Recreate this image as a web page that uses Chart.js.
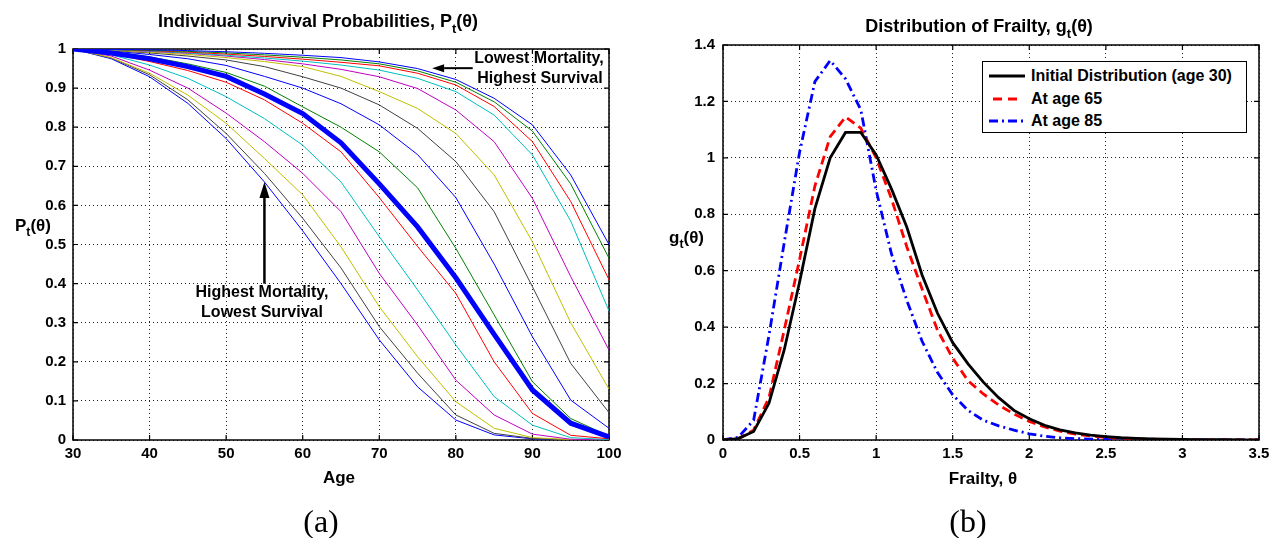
<!DOCTYPE html>
<html>
<head>
<meta charset="utf-8">
<title>Survival and frailty</title>
<script src="https://cdn.jsdelivr.net/npm/chart.js@4.4.0/dist/chart.umd.min.js"></script>
<style>
  body { margin: 0; background: #fff; width: 1283px; height: 538px; position: relative; overflow: hidden;
         font-family: "Liberation Sans", Arial, Helvetica, sans-serif; color: #000; }
  .panel { position: absolute; top: 0; height: 470px; }
  .lbl { position: absolute; font-weight: bold; white-space: nowrap; line-height: 1; transform: translate(-50%, -50%); }
  .lbl sub { font-size: 0.72em; vertical-align: -0.45em; line-height: 0; }
  .left { transform: translate(0, -50%); }
  .cap { position: absolute; font-family: "Liberation Serif", "DejaVu Serif", serif; font-size: 32px; line-height: 1;
         transform: translate(-50%, -50%); }
  #legend { position: absolute; left: 982px; top: 61px; width: 265px; height: 72px; box-sizing: border-box;
            border: 1px solid #000; background: #fff; z-index: 2; }
  #legend .row { position: absolute; left: 6px; height: 20px; display: flex; align-items: center;
                 font-weight: bold; font-size: 16px; white-space: nowrap; transform: translateY(-50%); }
  #legend svg { margin-right: 6px; }
</style>
</head>
<body>
<div class="panel" style="left:0;width:640px"><canvas id="survivalChart"></canvas></div>
<div class="panel" style="left:650px;width:633px"><canvas id="frailtyChart"></canvas></div>

<div class="lbl" style="left:318px;top:21px;font-size:18px">Individual Survival Probabilities, P<sub>t</sub>(θ)</div>
<div class="lbl" style="left:979px;top:26px;font-size:18px">Distribution of Frailty, g<sub>t</sub>(θ)</div>
<div class="lbl left" style="left:15px;top:225px;font-size:17px">P<sub>t</sub>(θ)</div>
<div class="lbl left" style="left:669px;top:237px;font-size:17px">g<sub>t</sub>(θ)</div>
<div class="lbl" style="left:339px;top:477px;font-size:17px">Age</div>
<div class="lbl" style="left:983px;top:478px;font-size:17px">Frailty, θ</div>
<div class="cap" style="left:321px;top:521px">(a)</div>
<div class="cap" style="left:968px;top:521px">(b)</div>

<div class="lbl" style="left:539px;top:58px;font-size:16px">Lowest Mortality,</div>
<div class="lbl" style="left:540px;top:78px;font-size:16px">Highest Survival</div>
<div class="lbl" style="left:262px;top:292px;font-size:16px">Highest Mortality,</div>
<div class="lbl" style="left:262px;top:312px;font-size:16px">Lowest Survival</div>

<div id="legend">
  <div class="row" style="top:14px"><svg width="36" height="6"><line x1="0" y1="3" x2="36" y2="3" stroke="#000" stroke-width="3"/></svg>Initial Distribution (age 30)</div>
  <div class="row" style="top:37px"><svg width="36" height="6"><line x1="4" y1="3" x2="32" y2="3" stroke="#ff0000" stroke-width="3" stroke-dasharray="9 6"/></svg>At age 65</div>
  <div class="row" style="top:59px"><svg width="36" height="6"><line x1="0" y1="3" x2="36" y2="3" stroke="#0000ff" stroke-width="3" stroke-dasharray="9 4 2 4"/></svg>At age 85</div>
</div>

<script>
// panel (a): survival of individuals with different frailty
const ages = [30, 35, 40, 45, 50, 55, 60, 65, 70, 75, 80, 85, 90, 95, 100];
const survival1 = [1, 0.999, 0.998, 0.996, 0.993, 0.989, 0.984, 0.978, 0.967, 0.95, 0.922, 0.874, 0.806, 0.678, 0.50];
const survival2 = [1, 0.999, 0.997, 0.994, 0.99, 0.985, 0.979, 0.972, 0.962, 0.944, 0.915, 0.865, 0.79, 0.655, 0.465];
const survival3 = [1, 0.999, 0.996, 0.992, 0.987, 0.981, 0.974, 0.966, 0.957, 0.938, 0.908, 0.853, 0.763, 0.61, 0.41];
const survival4 = [1, 0.998, 0.995, 0.99, 0.984, 0.977, 0.969, 0.959, 0.946, 0.925, 0.891, 0.831, 0.729, 0.56, 0.33];
const survival5 = [1, 0.998, 0.994, 0.989, 0.982, 0.973, 0.962, 0.948, 0.929, 0.899, 0.844, 0.763, 0.618, 0.418, 0.23];
const survival6 = [1, 0.997, 0.992, 0.986, 0.978, 0.968, 0.955, 0.93, 0.891, 0.848, 0.784, 0.678, 0.507, 0.30, 0.13];
const survival7 = [1, 0.996, 0.99, 0.982, 0.972, 0.955, 0.929, 0.9, 0.857, 0.797, 0.712, 0.584, 0.392, 0.196, 0.07];
const survival8 = [1, 0.995, 0.986, 0.975, 0.958, 0.93, 0.9, 0.86, 0.806, 0.73, 0.62, 0.45, 0.264, 0.102, 0.03];
const survival9 = [1, 0.993, 0.98, 0.962, 0.94, 0.905, 0.852, 0.8, 0.737, 0.645, 0.49, 0.32, 0.149, 0.055, 0.01];
const survival10 = [1, 0.988, 0.968, 0.945, 0.915, 0.87, 0.81, 0.737, 0.62, 0.495, 0.375, 0.2, 0.068, 0.012, 0.003];
const survival11 = [1, 0.985, 0.959, 0.925, 0.878, 0.822, 0.754, 0.66, 0.52, 0.384, 0.243, 0.111, 0.038, 0.006, 0.001];
const survival12 = [1, 0.982, 0.946, 0.9, 0.836, 0.763, 0.682, 0.584, 0.426, 0.294, 0.153, 0.064, 0.015, 0.002, 0];
const survival13 = [1, 0.978, 0.938, 0.882, 0.81, 0.72, 0.627, 0.494, 0.341, 0.213, 0.098, 0.03, 0.006, 0.001, 0];
const survival14 = [1, 0.977, 0.934, 0.87, 0.784, 0.682, 0.567, 0.44, 0.29, 0.171, 0.064, 0.017, 0.004, 0, 0];
const survival15 = [1, 0.975, 0.929, 0.861, 0.771, 0.66, 0.535, 0.40, 0.256, 0.136, 0.051, 0.013, 0.003, 0, 0];
const survivalMean = [1, 0.99, 0.975, 0.955, 0.93, 0.885, 0.835, 0.76, 0.655, 0.545, 0.415, 0.27, 0.128, 0.043, 0.008];

// panel (b): frailty densities
const theta = [0, 0.1, 0.2, 0.3, 0.4, 0.5, 0.6, 0.7, 0.8, 0.9, 1.0, 1.1, 1.2, 1.3, 1.4, 1.5, 1.6, 1.7,
               1.8, 1.9, 2.0, 2.1, 2.2, 2.3, 2.4, 2.5, 2.6, 2.7, 2.8, 2.9, 3.0, 3.1, 3.2, 3.3, 3.4, 3.5];
const gAge30 = [0, 0.005, 0.03, 0.13, 0.32, 0.56, 0.82, 1.0, 1.09, 1.09, 1.01, 0.89, 0.755, 0.585, 0.45, 0.345, 0.27, 0.205,
                0.15, 0.105, 0.075, 0.052, 0.036, 0.025, 0.017, 0.012, 0.008, 0.006, 0.004, 0.003, 0.002, 0.001, 0.001, 0.001, 0, 0];
const gAge65 = [0, 0.005, 0.035, 0.15, 0.39, 0.64, 0.90, 1.075, 1.145, 1.105, 1.0, 0.855, 0.685, 0.535, 0.39, 0.29, 0.21, 0.163,
                0.124, 0.092, 0.066, 0.046, 0.031, 0.021, 0.014, 0.009, 0.006, 0.004, 0.003, 0.002, 0.001, 0.001, 0, 0, 0, 0];
const gAge85 = [0, 0.01, 0.07, 0.37, 0.70, 1.02, 1.27, 1.345, 1.28, 1.17, 0.885, 0.66, 0.495, 0.35, 0.24, 0.16, 0.105, 0.07,
                0.05, 0.035, 0.022, 0.013, 0.008, 0.005, 0.003, 0.002, 0.001, 0.001, 0, 0, 0, 0, 0, 0, 0, 0];

const matlabColors = ["#0000ff", "#008000", "#ff0000", "#00bfbf", "#bf00bf", "#bfbf00", "#404040"];
const tickFont = { family: "'Liberation Sans', Arial, sans-serif", size: 15, weight: "bold" };

function points(xs, ys) {
    return xs.map((x, i) => ({ x: x, y: ys[i] }));
}

// box round the axes with short inward ticks, like MATLAB
const matlabBox = {
    id: "matlabBox",
    beforeDatasetsDraw(chart) {
        const { ctx, chartArea: a, scales } = chart;
        ctx.save();
        ctx.strokeStyle = "#000";
        ctx.lineWidth = 1.5;
        ctx.strokeRect(a.left, a.top, a.right - a.left, a.bottom - a.top);
        ctx.lineWidth = 1.2;
        ctx.beginPath();
        scales.x.ticks.forEach((t) => {
            const px = scales.x.getPixelForValue(t.value);
            ctx.moveTo(px, a.bottom); ctx.lineTo(px, a.bottom - 5);
            ctx.moveTo(px, a.top); ctx.lineTo(px, a.top + 5);
        });
        scales.y.ticks.forEach((t) => {
            const py = scales.y.getPixelForValue(t.value);
            ctx.moveTo(a.left, py); ctx.lineTo(a.left + 5, py);
            ctx.moveTo(a.right, py); ctx.lineTo(a.right - 5, py);
        });
        ctx.stroke();
        ctx.restore();
    }
};

function drawArrow(ctx, x0, y0, x1, y1, width, headLen, headHalf) {
    const ang = Math.atan2(y1 - y0, x1 - x0);
    const bx = x1 - headLen * Math.cos(ang);
    const by = y1 - headLen * Math.sin(ang);
    ctx.lineWidth = width;
    ctx.beginPath();
    ctx.moveTo(x0, y0);
    ctx.lineTo(bx, by);
    ctx.stroke();
    ctx.beginPath();
    ctx.moveTo(x1, y1);
    ctx.lineTo(bx + headHalf * Math.sin(ang), by - headHalf * Math.cos(ang));
    ctx.lineTo(bx - headHalf * Math.sin(ang), by + headHalf * Math.cos(ang));
    ctx.closePath();
    ctx.fill();
}

const arrowNotes = {
    id: "arrowNotes",
    afterDatasetsDraw(chart) {
        const { ctx, scales: { x, y } } = chart;
        ctx.save();
        ctx.strokeStyle = "#000";
        ctx.fillStyle = "#000";
        drawArrow(ctx, x.getPixelForValue(82.2), y.getPixelForValue(0.951),
                  x.getPixelForValue(76.9), y.getPixelForValue(0.951), 2, 12, 4);
        drawArrow(ctx, x.getPixelForValue(55), y.getPixelForValue(0.40),
                  x.getPixelForValue(55), y.getPixelForValue(0.66), 2.5, 16, 5);
        ctx.restore();
    }
};

function axisOptions(min, max, step, width, pad) {
    return {
        type: "linear",
        min: min,
        max: max,
        afterFit: (scale) => {
            if (scale.isHorizontal()) scale.height = 30; else scale.width = width;
        },
        ticks: {
            stepSize: step,
            autoSkip: false,
            maxRotation: 0,
            padding: pad,
            color: "#000",
            font: tickFont,
            callback: (v) => String(Number(v.toFixed(1)))
        },
        grid: { color: "#222", lineWidth: 1, drawTicks: false },
        border: { display: false, dash: [1, 3] }
    };
}

function renderSurvivalChart() {
    const ctx = document.getElementById("survivalChart").getContext("2d");
    const curves = [survival1, survival2, survival3, survival4, survival5, survival6, survival7, survival8,
                    survival9, survival10, survival11, survival12, survival13, survival14, survival15];
    const datasets = curves.map((vals, i) => ({
        data: points(ages, vals),
        borderColor: matlabColors[i % 7],
        borderWidth: 1,
        order: 2
    }));
    datasets.push({
        data: points(ages, survivalMean),
        borderColor: "#0000ff",
        borderWidth: 5,
        order: 1
    });

    new Chart(ctx, {
        type: "line",
        data: { datasets: datasets },
        options: {
            responsive: true,
            maintainAspectRatio: false,
            animation: false,
            events: [],
            layout: { padding: { top: 49, right: 31, left: 0, bottom: 0 } },
            elements: { point: { radius: 0 }, line: { tension: 0 } },
            plugins: { legend: { display: false }, tooltip: { enabled: false } },
            scales: {
                x: axisOptions(30, 100, 10, 0, 5),
                y: axisOptions(0, 1, 0.1, 73, 7)
            }
        },
        plugins: [matlabBox, arrowNotes]
    });
}

function renderFrailtyChart() {
    const ctx = document.getElementById("frailtyChart").getContext("2d");

    new Chart(ctx, {
        type: "line",
        data: {
            datasets: [{
                label: "Initial Distribution (age 30)",
                data: points(theta, gAge30),
                borderColor: "#000",
                borderWidth: 2.8
            }, {
                label: "At age 65",
                data: points(theta, gAge65),
                borderColor: "#ff0000",
                borderWidth: 2.8,
                borderDash: [9, 5]
            }, {
                label: "At age 85",
                data: points(theta, gAge85),
                borderColor: "#0000ff",
                borderWidth: 2.8,
                borderDash: [9, 4, 2, 4]
            }]
        },
        options: {
            responsive: true,
            maintainAspectRatio: false,
            animation: false,
            events: [],
            layout: { padding: { top: 45, right: 24, left: 0, bottom: 0 } },
            elements: { point: { radius: 0 }, line: { tension: 0 } },
            plugins: { legend: { display: false }, tooltip: { enabled: false } },
            scales: {
                x: axisOptions(0, 3.5, 0.5, 0, 5),
                y: axisOptions(0, 1.4, 0.2, 73, 8)
            }
        },
        plugins: [matlabBox]
    });
}

document.addEventListener("DOMContentLoaded", () => {
    renderSurvivalChart();
    renderFrailtyChart();
});
</script>
</body>
</html>
